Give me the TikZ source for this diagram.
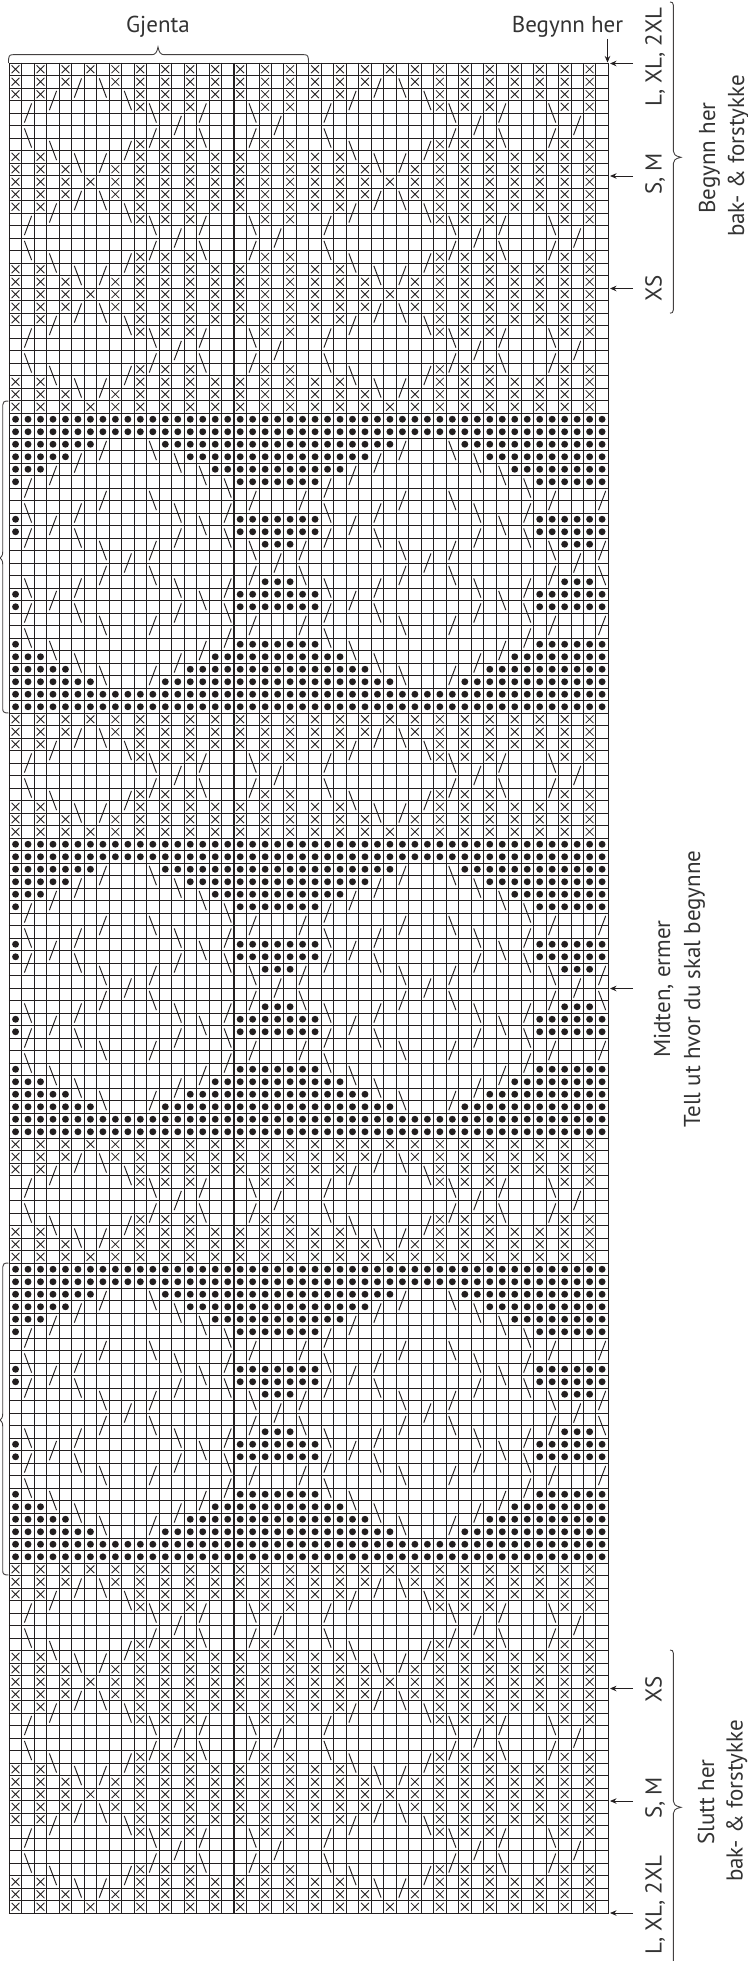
\documentclass[tikz,border=0pt]{standalone}
\usepackage{fontspec}
\setmainfont{PT Sans}
\usetikzlibrary{arrows.meta}
\definecolor{ink}{HTML}{231F20}
\definecolor{txt}{HTML}{333333}
\tikzset{
  x=1pt,y=-1pt,
  gridline/.style={draw=ink,line width=0.8pt},
  mark x/.style={draw=ink,line width=0.85pt},
  mark slash/.style={draw=ink,line width=0.95pt},
  mark dot/.style={fill=ink,draw=none},
  bracel/.style={draw=ink!85,line width=0.9pt},
  arrowl/.style={draw=ink,line width=0.9pt,-{Stealth[length=6.5pt,width=5.5pt]}},
  lab/.style={text=txt,font=\fontsize{23}{25}\selectfont,inner sep=0pt,anchor=base},
  labr/.style={lab,rotate=90},
}
% cols are given 0..23 and repeated at +24
\newcommand\Xs[2]{\foreach \rp in {0,24}{\foreach \c in {#2}{%
  \pgfmathsetmacro\cx{15.54+12.48*(\c+\rp)}\pgfmathsetmacro\cy{69.25+12.5*(#1)}%
  \draw[mark x] (\cx-3.9,\cy-3.9) -- (\cx+3.9,\cy+3.9) (\cx-3.9,\cy+3.9) -- (\cx+3.9,\cy-3.9);}}}
\newcommand\Ds[2]{\foreach \rp in {0,24}{\foreach \c in {#2}{%
  \pgfmathsetmacro\cx{15.54+12.48*(\c+\rp)}\pgfmathsetmacro\cy{69.25+12.5*(#1)}%
  \fill[mark dot] (\cx,\cy) circle (3.45);}}}
\newcommand\Fw[2]{\foreach \rp in {0,24}{\foreach \c in {#2}{%
  \pgfmathsetmacro\cx{15.54+12.48*(\c+\rp)}\pgfmathsetmacro\cy{63+12.5*(#1)}%
  \draw[mark slash] (\cx-3.6,\cy+9.6) -- (\cx+3.6,\cy-9.6);}}}
\newcommand\Bw[2]{\foreach \rp in {0,24}{\foreach \c in {#2}{%
  \pgfmathsetmacro\cx{15.54+12.48*(\c+\rp)}\pgfmathsetmacro\cy{63+12.5*(#1)}%
  \draw[mark slash] (\cx-3.6,\cy-9.6) -- (\cx+3.6,\cy+9.6);}}}
\newcommand\PZero[1]{\Xs{#1}{0,2,...,22}}
\newcommand\PeriodX[1]{%
  \Xs{#1+0}{0,2,...,22}
  \Xs{#1+1}{0,2,4,8,10,...,22}
  \Xs{#1+2}{0,2,10,12,...,22}
  \Xs{#1+3}{10,12,14,20,22}
  \Xs{#1+6}{10,12,14,20,22}
  \Xs{#1+7}{0,2,10,12,...,22}
  \Xs{#1+8}{0,2,4,8,10,...,22}
  \Fw{#1+2}{5}\Bw{#1+2}{7}
  \Fw{#1+3}{3}\Bw{#1+3}{9}
  \Fw{#1+4}{1,15}\Bw{#1+4}{11,19}
  \Fw{#1+5}{13,21}
  \Bw{#1+6}{1,15}\Fw{#1+6}{11,19}
  \Bw{#1+7}{3}\Fw{#1+7}{9}
  \Bw{#1+8}{5}\Fw{#1+8}{7}
}
\newcommand\Motif[1]{%
  \Ds{#1+0}{0,1,...,23}\Ds{#1+1}{0,1,...,23}
  \Ds{#1+2}{0,...,6,12,13,...,23}
  \Ds{#1+3}{0,...,4,14,15,...,23}
  \Ds{#1+4}{0,1,2,16,17,...,23}
  \Ds{#1+5}{0,18,19,...,23}
  \Ds{#1+8}{0,18,19,...,23}
  \Ds{#1+9}{0,18,19,...,23}
  \Ds{#1+10}{20,21,22}
  \Ds{#1+13}{20,21,22}
  \Ds{#1+14}{0,18,19,...,23}
  \Ds{#1+15}{0,18,19,...,23}
  \Ds{#1+18}{0,18,19,...,23}
  \Ds{#1+19}{0,1,2,16,17,...,23}
  \Ds{#1+20}{0,...,4,14,15,...,23}
  \Ds{#1+21}{0,...,6,12,13,...,23}
  \Ds{#1+22}{0,1,...,23}\Ds{#1+23}{0,1,...,23}
  \Fw{#1+3}{7}\Bw{#1+3}{11}
  \Fw{#1+4}{5}\Bw{#1+4}{13}
  \Fw{#1+5}{3}\Bw{#1+5}{15}
  \Fw{#1+6}{1}\Bw{#1+6}{17}
  \Fw{#1+7}{7,19,23}\Bw{#1+7}{11}
  \Bw{#1+8}{1,13}\Fw{#1+8}{5,17}
  \Fw{#1+9}{3}\Bw{#1+9}{15}
  \Fw{#1+10}{1,13}\Bw{#1+10}{5,17}
  \Bw{#1+11}{7,19}\Fw{#1+11}{11,23}
  \Fw{#1+12}{9,21}
  \Fw{#1+13}{7,19}\Bw{#1+13}{11,23}
  \Bw{#1+14}{1,13}\Fw{#1+14}{5,17}
  \Fw{#1+15}{3}\Bw{#1+15}{15}
  \Fw{#1+16}{1,13}\Bw{#1+16}{5,17}
  \Bw{#1+17}{7}\Fw{#1+17}{11,19,23}
  \Bw{#1+18}{1}\Fw{#1+18}{17}
  \Bw{#1+19}{3}\Fw{#1+19}{15}
  \Bw{#1+20}{5}\Fw{#1+20}{13}
  \Bw{#1+21}{7}\Fw{#1+21}{11}
}
\begin{document}
\begin{tikzpicture}
\useasboundingbox (0,0) rectangle (747,1961);
% grid
\foreach \b in {0,...,148}{\pgfmathsetmacro\yy{63+12.5*\b}\draw[gridline] (8.9,\yy) -- (608.7,\yy);}
\foreach \b/\w in {13/1.1,23/1.5,33/1.5,43/1.6,53/1.8,63/1.9,73/1.9,83/1.9,93/1.4,103/1.4,113/1.4,123/1.1,133/1.1,143/1.1}{\pgfmathsetmacro\yy{63+12.5*\b}\draw[gridline,line width=\w pt] (9.3,\yy) -- (608.34,\yy);}
\foreach \c in {0,...,48}{\pgfmathsetmacro\xx{9.3+12.48*\c}\draw[gridline] (\xx,62.6) -- (\xx,1913.4);}
\foreach \c in {8,18,28,38}{\pgfmathsetmacro\xx{9.3+12.48*\c}\draw[gridline,line width=0.95pt] (\xx,63) -- (\xx,1913);}
% stitches
\PeriodX{0}\PeriodX{9}\PeriodX{18}\PZero{27}
\Motif{28}
\PeriodX{52}\PZero{61}
\Motif{62}
\PeriodX{86}\PZero{95}
\Motif{96}
\PeriodX{120}\PeriodX{129}\PeriodX{138}\PZero{147}
% braces
\draw[bracel] (8.5,63) .. controls (8.5,56) and (9,54.7) .. (13,54.7) -- (152,54.7) .. controls (155.5,54.7) and (157,52) .. (158,47) .. controls (159,52) and (160.5,54.7) .. (164,54.7) -- (304,54.7) .. controls (308,54.7) and (308.5,56) .. (308.5,63);
\draw[bracel] (8.5,401) .. controls (4,401) and (2.7,402) .. (2.7,405) -- (2.7,552) .. controls (2.7,555.5) and (1.5,557) .. (0,558) .. controls (1.5,559) and (2.7,560.5) .. (2.7,564) -- (2.7,708.5) .. controls (2.7,712) and (4,713) .. (8.5,713);
\draw[bracel] (8.5,1263) .. controls (4,1263) and (2.7,1264) .. (2.7,1267) -- (2.7,1414) .. controls (2.7,1417.5) and (1.5,1419) .. (0,1420) .. controls (1.5,1421) and (2.7,1422.5) .. (2.7,1426) -- (2.7,1570.5) .. controls (2.7,1574) and (4,1575) .. (8.5,1575);
\draw[bracel] (670,2) .. controls (672,2) and (673.3,2.7) .. (673.3,5) -- (673.3,151) .. controls (673.3,154) and (675,156) .. (681,157.3) .. controls (675,158.6) and (673.3,160.5) .. (673.3,163.5) -- (673.3,310) .. controls (673.3,312.5) and (672,313.2) .. (670,313.2);
\draw[bracel] (670,1650) .. controls (672,1650) and (673.3,1650.7) .. (673.3,1653) -- (673.3,1801) .. controls (673.3,1804) and (675,1806) .. (681,1807.3) .. controls (675,1808.6) and (673.3,1810.5) .. (673.3,1813.5) -- (673.3,1961);
% labels
\node[lab] (gjenta) at (158,33) {Gjenta};
\node[lab] (begynn) at (567.5,33) {Begynn her};
\node[labr] (l1) at (661.7,57) {L, XL, 2XL};
\node[labr] (l2) at (661.7,174) {S, M};
\node[labr] (l3) at (661.7,288.5) {XS};
\node[labr] (t1) at (715,158) {Begynn her};
\node[labr] (t2) at (744,156) {bak- \& forstykke};
\node[labr] (m1) at (670,989) {Midten, ermer};
\node[labr] (m2) at (700,989) {Tell ut hvor du skal begynne};
\node[labr] (b3) at (661.7,1689) {XS};
\node[labr] (b2) at (661.7,1798) {S, M};
\node[labr] (b1) at (661.7,1905) {L, XL, 2XL};
\node[labr] (s1) at (714,1802) {Slutt her};
\node[labr] (s2) at (742.7,1801) {bak- \& forstykke};
% arrows
\coordinate (startTail) at (607.5,39);  \coordinate (startTip) at (607.5,62.5);
\draw[arrowl] (startTail) -- (startTip);
\foreach \nm/\yy in {a/63.5,b/176,c/288.5,d/988.5,e/1688.5,f/1801,g/1913}{
  \coordinate (\nm T) at (633,\yy); \coordinate (\nm H) at (610,\yy);
  \draw[arrowl] (\nm T) -- (\nm H);}
\end{tikzpicture}
\end{document}
